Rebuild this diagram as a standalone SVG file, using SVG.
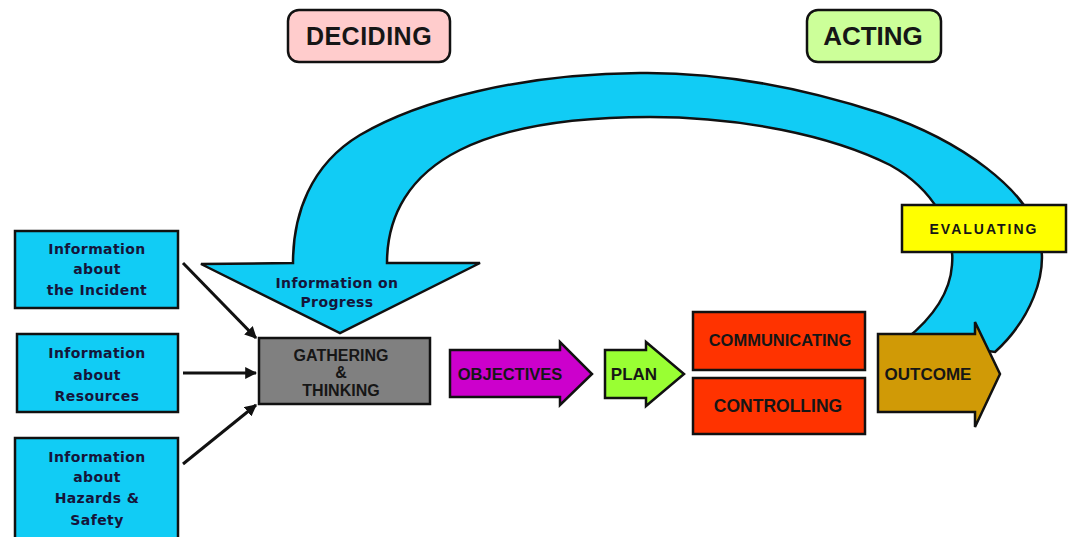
<svg xmlns="http://www.w3.org/2000/svg" width="1068" height="537" viewBox="0 0 1068 537">
<defs>
<style>
.sh{stroke:#111;stroke-width:2.5;stroke-linejoin:miter}
.t{font-family:"Liberation Sans",Arial,sans-serif;font-weight:bold;fill:#161616;text-anchor:middle;dominant-baseline:central}
.ti{font-family:"DejaVu Sans",Verdana,sans-serif;font-weight:bold;font-size:14px;letter-spacing:0.4px;fill:#15153a;text-anchor:middle;dominant-baseline:central}
.cn{stroke:#111;stroke-width:3;fill:none}
</style>
<marker id="ah" viewBox="0 0 10 10" refX="9" refY="5" markerWidth="4" markerHeight="4" orient="auto" markerUnits="strokeWidth">
<path d="M0 0 L10 5 L0 10 Z" fill="#111"/>
</marker>
</defs>
<rect width="1068" height="537" fill="#fff"/>

<g id="deciding">
<rect x="288" y="10" width="162" height="52" rx="11" fill="#ffcccc" class="sh"/>
<text class="t" x="369" y="36" font-size="25" letter-spacing="0.5">DECIDING</text>
</g>
<g id="acting">
<rect x="807" y="10" width="134" height="52" rx="11" fill="#ccff99" class="sh"/>
<text class="t" x="873" y="36" font-size="26">ACTING</text>
</g>

<g id="progress-arrow">
<path class="sh" fill="#11ccf5" d="M995 352 C1030 320 1048 275 1040 240 C1030 190 960 140 880 113 C800 87 720 72 640 73 C520 74 420 100 360 135 C310 165 293 215 293 263 L201 264 L340 333 L480 263 L387 263 C387 215 410 175 460 150 C510 125 580 117 650 117 C740 117 830 135 890 165 C935 190 955 230 952 265 C950 295 930 320 905 340 Z"/>
<text class="ti" x="337" y="283">Information on</text>
<text class="ti" x="337" y="302">Progress</text>
</g>

<g id="evaluating">
<rect x="902" y="205" width="164" height="47" fill="#ffff00" class="sh"/>
<text class="t" x="984" y="229" font-size="14" letter-spacing="2">EVALUATING</text>
</g>

<g id="info-incident">
<rect x="15" y="231" width="163" height="77" fill="#11ccf5" class="sh"/>
<text class="ti" x="97" y="249">Information</text>
<text class="ti" x="97" y="269">about</text>
<text class="ti" x="97" y="290">the Incident</text>
</g>
<g id="info-resources">
<rect x="17" y="334" width="161" height="78" fill="#11ccf5" class="sh"/>
<text class="ti" x="97" y="353">Information</text>
<text class="ti" x="97" y="375">about</text>
<text class="ti" x="97" y="396">Resources</text>
</g>
<g id="info-hazards">
<rect x="15" y="438" width="163" height="104" fill="#11ccf5" class="sh"/>
<text class="ti" x="97" y="457">Information</text>
<text class="ti" x="97" y="477">about</text>
<text class="ti" x="97" y="498">Hazards &amp;</text>
<text class="ti" x="97" y="520">Safety</text>
</g>

<g id="gathering">
<rect x="259" y="338" width="171" height="66" fill="#808080" class="sh"/>
<text class="t" x="341" y="355" font-size="16">GATHERING</text>
<text class="t" x="341" y="372" font-size="16">&amp;</text>
<text class="t" x="341" y="390" font-size="16">THINKING</text>
</g>

<g id="objectives">
<path class="sh" fill="#cc00cc" d="M450 350 L560 350 L560 342 L592 374 L560 405 L560 397 L450 397 Z"/>
<text class="t" x="510" y="374" font-size="16.5" fill="#2a002a">OBJECTIVES</text>
</g>

<g id="plan">
<path class="sh" fill="#99ff33" d="M605 350 L646 350 L646 342 L684 374 L646 406 L646 398 L605 398 Z"/>
<text class="t" x="634" y="374" font-size="17">PLAN</text>
</g>

<g id="communicating">
<rect x="693" y="312" width="172" height="58" fill="#ff3300" class="sh"/>
<text class="t" x="780" y="340" font-size="16.5">COMMUNICATING</text>
</g>
<g id="controlling">
<rect x="693" y="378" width="172" height="56" fill="#ff3300" class="sh"/>
<text class="t" x="778" y="406" font-size="17.5">CONTROLLING</text>
</g>

<g id="outcome">
<path class="sh" fill="#d09a06" d="M878 334 L975 334 L975 322 L1000 374 L975 427 L975 412 L878 412 Z"/>
<text class="t" x="928" y="374" font-size="17">OUTCOME</text>
</g>

<g id="connectors">
<line class="cn" x1="183" y1="263" x2="256" y2="338" marker-end="url(#ah)"/>
<line class="cn" x1="183" y1="373" x2="256" y2="373" marker-end="url(#ah)"/>
<line class="cn" x1="183" y1="464" x2="256" y2="405" marker-end="url(#ah)"/>
</g>
</svg>
